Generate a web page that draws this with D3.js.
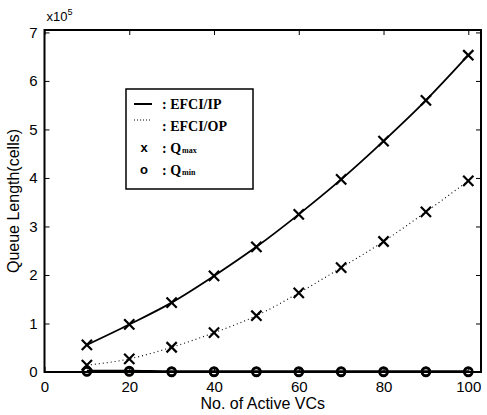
<!DOCTYPE html>
<html>
<head>
<meta charset="utf-8">
<script src="https://cdn.jsdelivr.net/npm/d3@7"></script>
<style>
  body { margin: 0; background: #fff; }
  svg { display: block; }
</style>
</head>
<body>
<svg id="chart" width="487" height="415"></svg>
<script>
// No. of active VCs
const vcs = [10, 20, 30, 40, 50, 60, 70, 80, 90, 100];
// queue length in units of 1e5 cells
const ipMax = [0.56, 0.98, 1.43, 1.98, 2.58, 3.25, 3.97, 4.76, 5.6, 6.53];
const opMax = [0.14, 0.27, 0.51, 0.81, 1.16, 1.63, 2.15, 2.69, 3.3, 3.94];
const ipMin = [0.02, 0.02, 0.01, 0.01, 0.01, 0.01, 0.01, 0.01, 0.01, 0.01];
const opMin = [0.01, 0.01, 0, 0, 0, 0, 0, 0, 0, 0];
const xTicks = [0, 20, 40, 60, 80, 100];
const yTicks = [0, 1, 2, 3, 4, 5, 6, 7];

const margin = { top: 30, right: 6, bottom: 43, left: 44.5 };
const width = 487, height = 415;

const svg = d3.select("#chart");
const x = d3.scaleLinear().domain([0, 103]).range([margin.left, width - margin.right]);
const y = d3.scaleLinear().domain([0, 7.05]).range([height - margin.bottom, margin.top]);

const sans = "'Liberation Sans', Arial, sans-serif";
const serif = "'Liberation Serif', 'Times New Roman', serif";

// axes with inward ticks
const xAxis = svg.append("g")
  .attr("transform", `translate(0,${y(0)})`)
  .call(d3.axisBottom(x).tickValues(xTicks).tickSize(-5).tickPadding(9).tickSizeOuter(0));
const yAxis = svg.append("g")
  .attr("transform", `translate(${x(0)},0)`)
  .call(d3.axisLeft(y).tickValues(yTicks).tickFormat(d3.format("d")).tickSize(-5).tickPadding(7).tickSizeOuter(0));
// mirrored ticks on top/right
svg.append("g")
  .attr("transform", `translate(0,${y.range()[1]})`)
  .call(d3.axisTop(x).tickValues(xTicks).tickSize(-5).tickFormat("").tickSizeOuter(0));
svg.append("g")
  .attr("transform", `translate(${x.range()[1]},0)`)
  .call(d3.axisRight(y).tickValues(yTicks).tickSize(-5).tickFormat("").tickSizeOuter(0));

svg.selectAll(".domain").remove();
svg.selectAll(".tick line").attr("stroke", "#000").attr("stroke-width", 1);
[xAxis, yAxis].forEach(g => g.selectAll("text")
  .attr("font-family", sans).attr("font-size", 15).attr("fill", "#000"));

// frame
svg.append("rect")
  .attr("x", x.range()[0]).attr("y", y.range()[1])
  .attr("width", x.range()[1] - x.range()[0])
  .attr("height", y.range()[0] - y.range()[1])
  .attr("fill", "none").attr("stroke", "#000").attr("stroke-width", 2);

const line = d3.line().x(d => x(d[0])).y(d => y(d[1])).curve(d3.curveMonotoneX);
const series = [
  { vals: ipMax, dash: null, w: 1.8 },
  { vals: opMax, dash: "1 3", w: 1.1 },
  { vals: ipMin, dash: null, w: 2.5 },
  { vals: opMin, dash: "1 3", w: 1.1 }
];
series.forEach(s => {
  svg.append("path")
    .datum(vcs.map((v, i) => [v, s.vals[i]]))
    .attr("d", line)
    .attr("fill", "none").attr("stroke", "#000")
    .attr("stroke-width", s.w)
    .attr("stroke-dasharray", s.dash);
});

// Qmax markers (x)
const cross = d3.symbol().type(d3.symbolX).size(70);
[ipMax, opMax].forEach(vals => {
  svg.append("g").selectAll("path")
    .data(vcs.map((v, i) => [v, vals[i]]))
    .join("path")
    .attr("d", cross)
    .attr("transform", d => `translate(${x(d[0])},${y(d[1])})`)
    .attr("fill", "none").attr("stroke", "#000").attr("stroke-width", 2.2);
});
// Qmin markers (o)
[ipMin, opMin].forEach(vals => {
  svg.append("g").selectAll("circle")
    .data(vcs.map((v, i) => [v, vals[i]]))
    .join("circle")
    .attr("cx", d => x(d[0])).attr("cy", d => y(d[1]))
    .attr("r", 4)
    .attr("fill", "none").attr("stroke", "#000").attr("stroke-width", 2.4);
});

// exponent label
const expo = svg.append("text")
  .attr("x", x(0) + 2).attr("y", 21)
  .attr("font-family", sans).attr("font-size", 13);
expo.append("tspan").text("x10");
expo.append("tspan").attr("dy", -6).attr("font-size", 9).text("5");

// axis titles
svg.append("text")
  .attr("x", (x.range()[0] + x.range()[1]) / 2).attr("y", 409)
  .attr("text-anchor", "middle")
  .attr("font-family", sans).attr("font-size", 16)
  .text("No. of Active VCs");
svg.append("text")
  .attr("transform", `translate(19,${(y.range()[0] + y.range()[1]) / 2}) rotate(-90)`)
  .attr("text-anchor", "middle")
  .attr("font-family", sans).attr("font-size", 16)
  .text("Queue Length(cells)");

// legend
const lg = svg.append("g").attr("transform", "translate(126,89)");
lg.append("rect").attr("width", 127).attr("height", 100)
  .attr("fill", "#fff").attr("stroke", "#000").attr("stroke-width", 1.5);
lg.append("line").attr("x1", 8).attr("x2", 26).attr("y1", 15).attr("y2", 15)
  .attr("stroke", "#000").attr("stroke-width", 2);
lg.append("line").attr("x1", 8).attr("x2", 26).attr("y1", 31).attr("y2", 31)
  .attr("stroke", "#000").attr("stroke-width", 1).attr("stroke-dasharray", "1 2");
lg.append("text").attr("x", 18).attr("y", 63).attr("text-anchor", "middle")
  .attr("font-family", sans).attr("font-size", 13).attr("font-weight", "bold").text("x");
lg.append("text").attr("x", 18).attr("y", 85).attr("text-anchor", "middle")
  .attr("font-family", sans).attr("font-size", 13).attr("font-weight", "bold").text("o");

const legendText = [
  { y: 20, main: ": EFCI/IP", sub: null },
  { y: 42, main: ": EFCI/OP", sub: null },
  { y: 64, main: ": Q", sub: "max" },
  { y: 86, main: ": Q", sub: "min" }
];
legendText.forEach(t => {
  const tx = lg.append("text").attr("x", 36).attr("y", t.y)
    .attr("font-family", serif).attr("font-size", 14).attr("font-weight", "bold");
  tx.append("tspan").text(t.main);
  if (t.sub) tx.append("tspan").attr("dx", 1).attr("font-size", 8).text(t.sub);
});
</script>
</body>
</html>
